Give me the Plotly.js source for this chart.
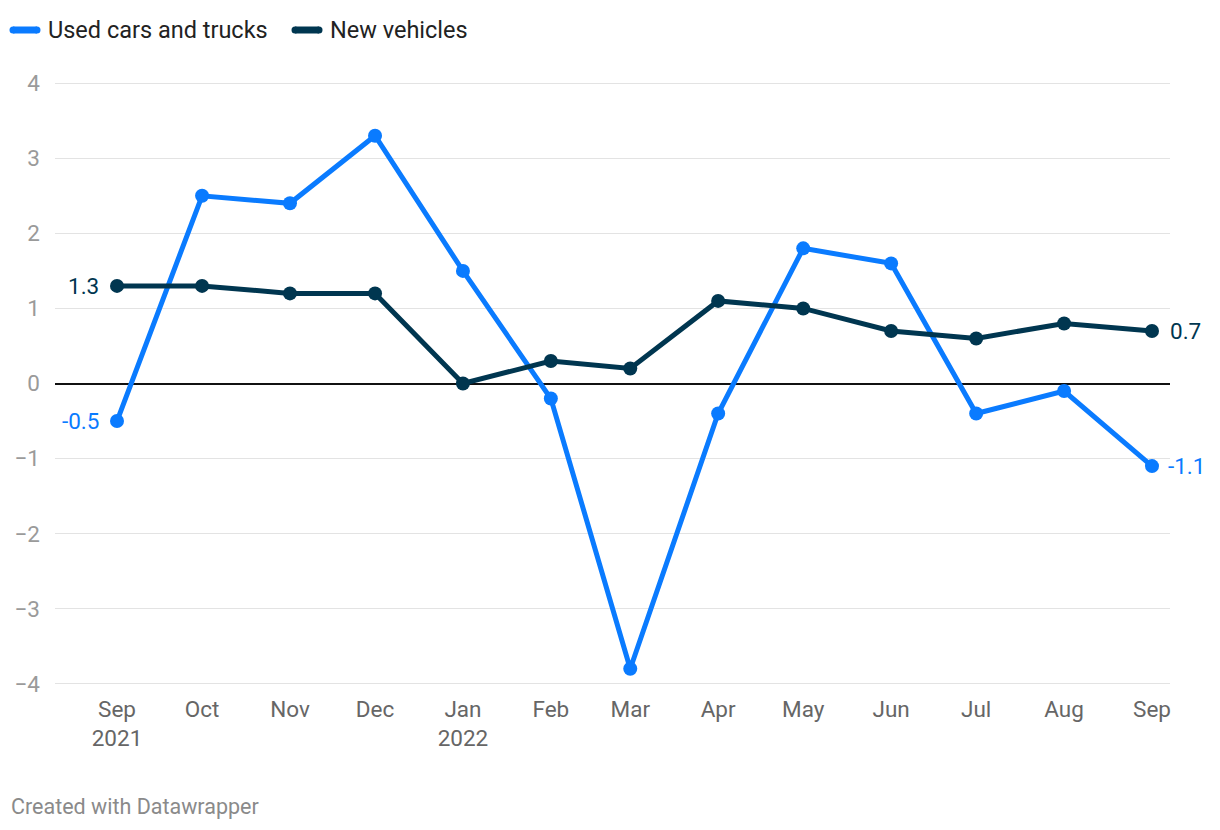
<!DOCTYPE html>
<html>
<head>
<meta charset="utf-8">
<script src="https://cdn.plot.ly/plotly-3.0.1.min.js"></script>
<style>
html,body{margin:0;padding:0;background:#fff;}
#chart{width:1220px;height:830px;}
</style>
</head>
<body>
<div id="chart"></div>
<script>
const dates = ["2021-09-01","2021-10-01","2021-11-01","2021-12-01","2022-01-01","2022-02-01","2022-03-01","2022-04-01","2022-05-01","2022-06-01","2022-07-01","2022-08-01","2022-09-01"];
const monthLabels = ["Sep<br>2021","Oct","Nov","Dec","Jan<br>2022","Feb","Mar","Apr","May","Jun","Jul","Aug","Sep"];
const usedCars = [-0.5, 2.5, 2.4, 3.3, 1.5, -0.2, -3.8, -0.4, 1.8, 1.6, -0.4, -0.1, -1.1];
const newVehicles = [1.3, 1.3, 1.2, 1.2, 0.0, 0.3, 0.2, 1.1, 1.0, 0.7, 0.6, 0.8, 0.7];
const seriesNames = ["Used cars and trucks", "New vehicles"];
const yTicks = [-4, -3, -2, -1, 0, 1, 2, 3, 4];

const usedColor = "#0a7bff";
const newColor = "#003650";
const last = dates.length - 1;

// plot area geometry in pixels
const PL = 55, PR = 1170, PT = 82, PB = 685;
const px2x = p => (p - PL) / (PR - PL);
const px2y = p => (PB - p) / (PB - PT);

const traces = [
  {x: dates, y: usedCars, mode: "lines+markers", name: seriesNames[0], showlegend: false,
   line: {color: usedColor, width: 5}, marker: {color: usedColor, size: 14}, cliponaxis: false, hoverinfo: "skip"},
  {x: dates, y: newVehicles, mode: "lines+markers", name: seriesNames[1], showlegend: false,
   line: {color: newColor, width: 5}, marker: {color: newColor, size: 14}, cliponaxis: false, hoverinfo: "skip"}
];

const fmt = v => (v < 0 ? "-" : "") + Math.abs(v).toFixed(1);

const annotations = [
  {x: dates[0], y: newVehicles[0], text: fmt(newVehicles[0]), xanchor: "right", xshift: -16, font: {color: newColor}},
  {x: dates[0], y: usedCars[0], text: fmt(usedCars[0]), xanchor: "right", xshift: -16, font: {color: usedColor}},
  {x: dates[last], y: newVehicles[last], text: fmt(newVehicles[last]), xanchor: "left", xshift: 16, font: {color: newColor}},
  {x: dates[last], y: usedCars[last], text: fmt(usedCars[last]), xanchor: "left", xshift: 14, font: {color: usedColor}},
].map(a => Object.assign({xref: "x", yref: "y", showarrow: false, yanchor: "middle"}, a,
  {font: Object.assign({family: "Roboto", size: 22.5}, a.font)}));

// legend (drawn as shapes + text)
const legendItems = [
  {name: seriesNames[0], color: usedColor, x0: 10, tx: 46},
  {name: seriesNames[1], color: newColor, x0: 292, tx: 328}
];
const shapes = [];
legendItems.forEach(it => {
  shapes.push({type: "line", xref: "paper", yref: "paper",
    x0: px2x(it.x0 + 3), x1: px2x(it.x0 + 27), y0: px2y(30), y1: px2y(30),
    line: {color: it.color, width: 7}});
  annotations.push({xref: "paper", yref: "paper", x: px2x(it.tx), y: px2y(30),
    xanchor: "left", yanchor: "middle", showarrow: false, text: it.name,
    font: {family: "Roboto", size: 23.5, color: "#222"}});
});
// rounded caps for legend swatches
legendItems.forEach(it => {
  [it.x0 + 3, it.x0 + 27].forEach(cx => shapes.push({type: "circle", xref: "paper", yref: "paper",
    x0: px2x(cx - 3.5), x1: px2x(cx + 3.5), y0: px2y(33.5), y1: px2y(26.5),
    fillcolor: it.color, line: {width: 0}}));
});

annotations.push({
  xref: "paper", yref: "paper", x: px2x(9), y: px2y(806),
  xanchor: "left", yanchor: "middle", showarrow: false,
  text: "Created with Datawrapper", font: {family: "Roboto", size: 21.5, color: "#8a8a8a"}
});

const msPerPx = (new Date("2022-09-01") - new Date("2021-09-01")) / (1152 - 117);
const t0 = new Date("2021-09-01").getTime();
const xr = [new Date(t0 - (117 - PL) * msPerPx).toISOString(), new Date(t0 + (PR - 117) * msPerPx).toISOString()];

const layout = {
  width: 1220, height: 830,
  margin: {l: PL, r: 1220 - PR, t: PT, b: 830 - PB, autoexpand: false},
  paper_bgcolor: "#fff", plot_bgcolor: "#fff",
  font: {family: "Roboto", size: 22, color: "#333"},
  showlegend: false,
  xaxis: {
    type: "date", range: xr, tickvals: dates, ticktext: monthLabels, automargin: false,
    showgrid: false, zeroline: false, showline: false, ticks: "",
    tickfont: {family: "Roboto", size: 22.5, color: "#666"}, ticklabelstandoff: 8, fixedrange: true
  },
  yaxis: {
    range: [-4.016, 4.016], tickvals: yTicks, showgrid: true, gridcolor: "#e3e3e3", gridwidth: 1,
    zeroline: true, zerolinecolor: "#111", zerolinewidth: 2, showline: false, ticks: "", automargin: false,
    tickfont: {family: "Roboto", size: 22.5, color: "#9a9a9a"}, ticklabelstandoff: 14, fixedrange: true
  },
  shapes: shapes,
  annotations: annotations
};

Plotly.newPlot("chart", traces, layout, {displayModeBar: false, staticPlot: true});
</script>
</body>
</html>
